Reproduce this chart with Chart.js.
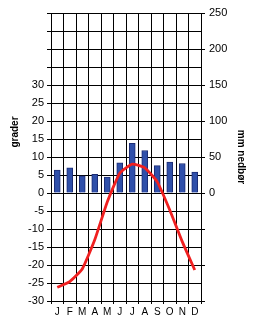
<!DOCTYPE html>
<html>
<head>
<meta charset="utf-8">
<script src="https://cdn.jsdelivr.net/npm/chart.js@4/dist/chart.umd.min.js"></script>
<style>
  body { margin: 0; background: #fff; }
</style>
</head>
<body>
<canvas id="klima" width="253" height="319"></canvas>
<script>
// months, precipitation (mm) and mean temperature (grader)
const months = ["J", "F", "M", "A", "M", "J", "J", "A", "S", "O", "N", "D"];
const nedbor = [32, 35, 24, 26, 22, 42, 69, 59, 38, 43, 41, 29];
const temperatur = [-26.2, -24.6, -21.1, -13, -2.5, 5.5, 8, 7, 3.1, -4.7, -13.5, -21.4];

const FONT = "'Liberation Sans', Arial, sans-serif";

// axis titles drawn by hand so they sit where the original has them
const axisTitles = {
    id: 'axisTitles',
    afterDraw(chart) {
        const ctx = chart.ctx;
        ctx.save();
        ctx.fillStyle = '#000';
        ctx.font = 'bold 10px ' + FONT;
        ctx.textAlign = 'center';
        ctx.textBaseline = 'middle';

        ctx.save();
        ctx.translate(15, 132);
        ctx.rotate(-Math.PI / 2);
        ctx.fillText('grader', 0, 0);
        ctx.restore();

        ctx.save();
        ctx.translate(241, 157);
        ctx.rotate(Math.PI / 2);
        ctx.fillText('mm nedbør', 0, 0);
        ctx.restore();

        ctx.restore();
    }
};

new Chart(document.getElementById('klima'), {
    type: 'bar',
    data: {
        labels: months,
        datasets: [
            {
                type: 'line',
                label: 'Temperatur',
                data: temperatur,
                yAxisID: 'y',
                borderColor: '#f02020',
                borderWidth: 2.8,
                pointRadius: 0,
                tension: 0.15,
                fill: false,
                order: 1
            },
            {
                type: 'bar',
                label: 'Nedbør',
                data: nedbor,
                yAxisID: 'y1',
                backgroundColor: '#3050aa',
                borderColor: '#1c2c74',
                borderWidth: 1,
                barThickness: 6,
                order: 2
            }
        ]
    },
    options: {
        responsive: false,
        animation: false,
        layout: { padding: { top: 13, left: 0, right: 0, bottom: 0 } },
        plugins: {
            legend: { display: false },
            tooltip: { enabled: false }
        },
        scales: {
            x: {
                offset: true,
                grid: { color: '#000', offset: true, tickLength: 3 },
                border: { color: '#000' },
                ticks: {
                    color: '#000',
                    font: { family: FONT, size: 10 },
                    padding: 2,
                    maxRotation: 0,
                    autoSkip: false
                },
                afterFit(scale) { scale.height = 18; }
            },
            y: {
                position: 'left',
                min: -30,
                max: 50,
                grid: { color: '#000', tickLength: 4 },
                border: { color: '#000' },
                ticks: {
                    stepSize: 5,
                    color: '#000',
                    font: { family: FONT, size: 11 },
                    padding: 3,
                    callback: v => v > 30 ? '' : v
                },
                afterFit(scale) { scale.width = 51; }
            },
            y1: {
                position: 'right',
                min: -150,
                max: 250,
                grid: { drawOnChartArea: false, color: '#000', tickLength: 4 },
                border: { color: '#000' },
                ticks: {
                    stepSize: 50,
                    color: '#000',
                    font: { family: FONT, size: 11 },
                    padding: 4,
                    callback: v => v < 0 ? '' : v
                },
                afterFit(scale) { scale.width = 52; }
            }
        }
    },
    plugins: [axisTitles]
});
</script>
</body>
</html>
